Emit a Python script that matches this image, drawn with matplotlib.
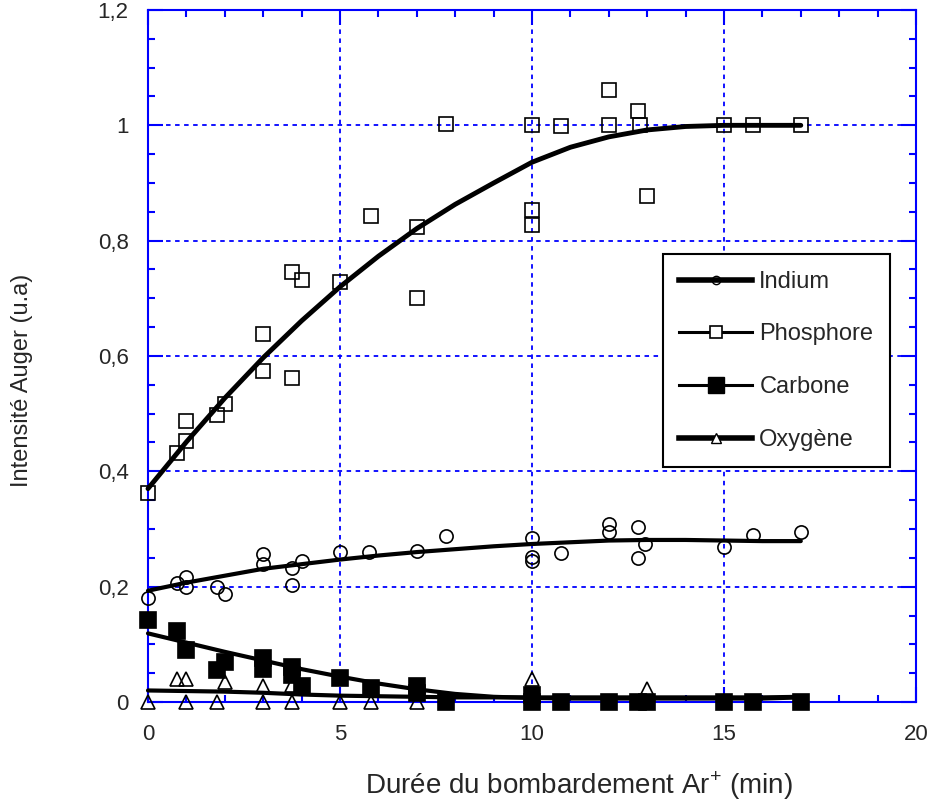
import matplotlib
matplotlib.use("Agg")
import matplotlib.pyplot as plt
from matplotlib.lines import Line2D
from matplotlib.ticker import MultipleLocator, FuncFormatter

plt.rcParams['font.family'] = ['Liberation Sans', 'DejaVu Sans']
plt.rcParams['mathtext.fontset'] = 'custom'
plt.rcParams['mathtext.rm'] = 'Liberation Sans'

p_x = [0, 0.75, 1.0, 1.0, 1.8, 2.0, 3.0, 3.0, 3.75, 3.75, 4.0, 5.0, 5.8, 7.0,
       7.0, 7.75, 10.0, 10.0, 10.0, 10.75, 12.0, 12.0, 12.75, 12.8, 13.0,
       15.0, 15.75, 17.0]
p_y = [0.362, 0.431, 0.452, 0.488, 0.498, 0.517, 0.638, 0.574, 0.746, 0.562,
       0.732, 0.729, 0.843, 0.823, 0.700, 1.003, 1.0, 0.854, 0.827, 0.999,
       1.061, 1.0, 1.024, 1.0, 0.877, 1.0, 1.0, 1.0]

in_x = [0, 0.75, 1.0, 1.0, 1.8, 2.0, 3.0, 3.0, 3.75, 3.75, 4.0, 5.0, 5.75,
        7.0, 7.75, 10.0, 10.0, 10.0, 10.75, 12.0, 12.0, 12.75, 12.95, 12.75,
        15.0, 15.75, 17.0]
in_y = [0.181, 0.207, 0.216, 0.199, 0.200, 0.188, 0.256, 0.239, 0.232, 0.203,
        0.245, 0.260, 0.260, 0.261, 0.287, 0.285, 0.251, 0.245, 0.258, 0.309,
        0.294, 0.303, 0.274, 0.250, 0.268, 0.289, 0.294]

c_x = [0, 0.75, 1.0, 1.8, 2.0, 3.0, 3.0, 3.75, 3.75, 4.0, 5.0, 5.8, 7.0, 7.0,
       7.75, 10.0, 10.0, 10.75, 12.0, 12.75, 13.0, 15.0, 15.75, 17.0]
c_y = [0.142, 0.123, 0.090, 0.055, 0.070, 0.077, 0.058, 0.060, 0.047, 0.028,
       0.042, 0.025, 0.027, 0.015, 0.0, 0.012, 0.0, 0.0, 0.0, 0.0, 0.0, 0.0,
       0.0, 0.0]

o_x = [0, 0.75, 1.0, 1.0, 1.8, 2.0, 3.0, 3.0, 3.75, 3.75, 5.0, 5.8, 7.0,
       10.0, 13.0]
o_y = [0.0, 0.040, 0.040, 0.0, 0.0, 0.035, 0.028, 0.0, 0.030, 0.0, 0.0, 0.0,
       0.0, 0.040, 0.022]

# ---- fitted curves at integer x ----
fit_x = list(range(18))
p_fit = [0.370, 0.451, 0.527, 0.597, 0.661, 0.720, 0.773, 0.821, 0.863,
         0.900, 0.936, 0.962, 0.980, 0.992, 0.998, 1.0, 1.0, 1.0]
in_fit = [0.193, 0.207, 0.219, 0.231, 0.239, 0.247, 0.254, 0.260, 0.265,
          0.270, 0.274, 0.277, 0.280, 0.281, 0.281, 0.280, 0.279, 0.279]
c_fit = [0.119, 0.103, 0.087, 0.072, 0.057, 0.044, 0.032, 0.022, 0.014,
         0.009, 0.007, 0.006, 0.006, 0.006, 0.006, 0.006, 0.006, 0.008]
o_fit = [0.020, 0.019, 0.018, 0.016, 0.013, 0.011, 0.010, 0.009, 0.008,
         0.008, 0.008, 0.008, 0.008, 0.008, 0.008, 0.008, 0.008, 0.009]

labels = ["Indium", "Phosphore", "Carbone", "Oxygène"]

BLUE = "#0000ff"
TXT = "#262626"

fig = plt.figure(figsize=(9.3, 8.05), dpi=100)
ax = fig.add_axes([148 / 930, 1 - 702 / 805, 768 / 930, 692 / 805])

ax.set_xlim(0, 20)
ax.set_ylim(0, 1.2)

# grid at major ticks only
ax.grid(True, which="major", color=BLUE, ls=(0, (2.5, 2.5)), lw=1.3)
ax.set_axisbelow(True)

mk = dict(ls="none", color="black", mew=1.2, clip_on=False, zorder=3)
ax.plot(p_x, p_y, marker="s", ms=10, mfc="none", **mk)
ax.plot(in_x, in_y, marker="o", ms=9.5, mfc="none", **mk)
ax.plot(c_x, c_y, marker="s", ms=11, mfc="black", **mk)
ax.plot(o_x, o_y, marker="^", ms=9.5, mfc="none", **mk)

ln = dict(color="black", solid_capstyle="round", solid_joinstyle="round",
          zorder=4, clip_on=False)
ax.plot(fit_x, p_fit, lw=3.5, **ln)
ax.plot(fit_x, in_fit, lw=3.0, **ln)
ax.plot(fit_x, c_fit, lw=3.0, **ln)
ax.plot(fit_x, o_fit, lw=3.0, **ln)

# axes styling
for s in ax.spines.values():
    s.set_color(BLUE)
    s.set_linewidth(1.5)
ax.xaxis.set_major_locator(MultipleLocator(5))
ax.xaxis.set_minor_locator(MultipleLocator(1))
ax.yaxis.set_major_locator(MultipleLocator(0.2))
ax.yaxis.set_minor_locator(MultipleLocator(0.05))
ax.tick_params(which="both", direction="in", color=BLUE, top=True, right=True,
               labelcolor=TXT, labelsize=16)
ax.tick_params(which="major", length=11, width=1.5)
ax.tick_params(which="minor", length=5, width=1.5)
ax.tick_params(axis="y", pad=14)
ax.tick_params(axis="x", pad=16)
ax.yaxis.set_major_formatter(FuncFormatter(lambda v, _: f"{v:g}".replace(".", ",")))

fig.text(579 / 930, 1 - 786 / 805, "Durée du bombardement Ar$^{\\mathregular{+}}$ (min)",
         ha="center", va="center", fontsize=20, color=TXT)
fig.text(22 / 930, 1 - 380 / 805, "Intensité Auger (u.a)", rotation=90,
         ha="center", va="center", fontsize=17, color=TXT)

handles = [
    Line2D([], [], color="black", lw=4.0, marker="o", ms=6, mfc="none", mew=1.0),
    Line2D([], [], color="black", lw=2.2, marker="s", ms=9, mfc="white", mew=1.2),
    Line2D([], [], color="black", lw=2.2, marker="s", ms=11, mfc="black"),
    Line2D([], [], color="black", lw=4.0, marker="^", ms=7, mfc="white", mew=1.0),
]
leg = ax.legend(handles, labels, loc="upper left", bbox_to_anchor=(0.670, 0.647),
                borderaxespad=0, fontsize=17, labelspacing=1.3, handlelength=3.1,
                handletextpad=0.3, borderpad=0.7, fancybox=False, framealpha=1,
                edgecolor="black")
leg.get_frame().set_linewidth(1.5)
for t in leg.get_texts():
    t.set_color(TXT)
leg.set_zorder(5)

fig.savefig("out.png", dpi=100)
